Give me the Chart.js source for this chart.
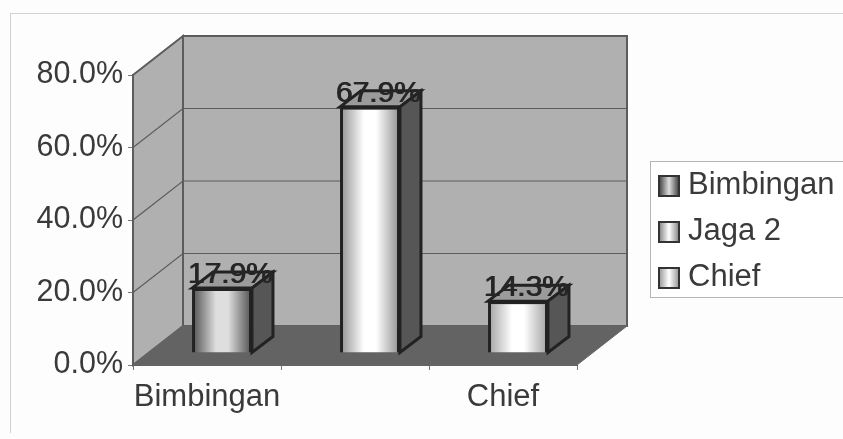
<!DOCTYPE html>
<html>
<head>
<meta charset="utf-8">
<script src="https://cdn.jsdelivr.net/npm/chart.js@4"></script>
<style>
    html, body { margin: 0; background: #fdfdfd; }
    #wrap { position: relative; width: 843px; height: 439px; overflow: hidden; filter: blur(0.6px); }
    #frame { position: absolute; left: 10px; top: 13px; width: 840px; height: 420px; border: 1px solid #d2d2d2; border-bottom: 0; box-sizing: border-box; }
    #legend { position: absolute; left: 650px; top: 161px; width: 200px; height: 137px; border: 1px solid #b5b5b5; box-sizing: border-box; background: #fff; font: 31px "Liberation Sans", Arial, sans-serif; color: #3a3a3a; }
    .legend-item { position: relative; top: -1px; height: 46px; line-height: 46px; white-space: nowrap; }
    .legend-swatch { display: inline-block; width: 22px; height: 22px; margin: 0 8px 0 7px; border: 2px solid #333; box-sizing: border-box; vertical-align: -3px; }
    canvas { position: absolute; left: 0; top: 0; }
</style>
</head>
<body>
<div id="wrap">
    <div id="frame"></div>
    <canvas id="myChart" width="843" height="439"></canvas>
    <div id="legend"></div>
</div>
<script>
var categories = ["Bimbingan", "Jaga 2", "Chief"];
var xTickLabels = ["Bimbingan", "", "Chief"];
var shareValues = [17.9, 67.9, 14.3];
var barEdgeColors = ["#4e4e4e", "#8f8f8f", "#a0a0a0"];
var barMidColors = ["#dedede", "#ffffff", "#ffffff"];

// depth of the fake 3d box, the library only knows the front plane
var wallDx = 50;
var wallDy = 39;
var barDx = 15;
var barDy = 12;
var sideDx = 21;
var sideDy = 16;

function barGradient(chart, i) {
    var cx = chart.scales.x.getPixelForValue(i);
    // first resolve happens before layout
    if (!isFinite(cx)) return barMidColors[i];
    var g = chart.ctx.createLinearGradient(cx - 30, 0, cx + 30, 0);
    g.addColorStop(0, barEdgeColors[i]);
    g.addColorStop(0.4, barMidColors[i]);
    g.addColorStop(0.6, barMidColors[i]);
    g.addColorStop(1, barEdgeColors[i]);
    return g;
}

function poly(ctx, pts, fill, stroke, width) {
    ctx.beginPath();
    ctx.moveTo(pts[0][0], pts[0][1]);
    for (var i = 1; i < pts.length; i++) {
        ctx.lineTo(pts[i][0], pts[i][1]);
    }
    ctx.closePath();
    if (fill) {
        ctx.fillStyle = fill;
        ctx.fill();
    }
    if (stroke) {
        ctx.strokeStyle = stroke;
        ctx.lineWidth = width || 1;
        ctx.stroke();
    }
}

var box3d = {
    id: "box3d",
    beforeDatasetsDraw: function (chart) {
        var ctx = chart.ctx;
        var a = chart.chartArea;
        ctx.save();
        // back wall, side wall, floor
        poly(ctx, [[a.left + wallDx, a.top - wallDy], [a.right + wallDx, a.top - wallDy], [a.right + wallDx, a.bottom - wallDy], [a.left + wallDx, a.bottom - wallDy]], "#b0b0b0", "#5c5c5c", 2);
        poly(ctx, [[a.left, a.top], [a.left + wallDx, a.top - wallDy], [a.left + wallDx, a.bottom - wallDy], [a.left, a.bottom]], "#b0b0b0", "#5c5c5c", 2);
        poly(ctx, [[a.left, a.bottom], [a.right, a.bottom], [a.right + wallDx, a.bottom - wallDy], [a.left + wallDx, a.bottom - wallDy]], "#636363", "#666", 1);
        // gridlines follow the y ticks round the two walls
        var yScale = chart.scales.y;
        ctx.strokeStyle = "#5c5c5c";
        ctx.lineWidth = 1.2;
        yScale.ticks.forEach(function (t) {
            if (t.value === 0 || t.value === 80) return;
            var y = yScale.getPixelForValue(t.value);
            ctx.beginPath();
            ctx.moveTo(a.left, y);
            ctx.lineTo(a.left + wallDx, y - wallDy);
            ctx.lineTo(a.right + wallDx, y - wallDy);
            ctx.stroke();
        });
        // bars sit part way into the floor
        ctx.translate(barDx, -barDy);
        var meta = chart.getDatasetMeta(0);
        meta.data.forEach(function (bar) {
            var l = bar.x - bar.width / 2;
            var r = bar.x + bar.width / 2;
            poly(ctx, [[l, bar.y], [l + sideDx, bar.y - sideDy], [r + sideDx, bar.y - sideDy], [r, bar.y]], "#9b9b9b", "#222", 3);
            poly(ctx, [[r, bar.y], [r + sideDx, bar.y - sideDy], [r + sideDx, bar.base - sideDy], [r, bar.base]], "#565656", "#222", 3);
        });
    },
    afterDatasetsDraw: function (chart) {
        var ctx = chart.ctx;
        ctx.restore();
        var meta = chart.getDatasetMeta(0);
        ctx.save();
        ctx.font = "30px 'Liberation Sans', Arial, sans-serif";
        ctx.fillStyle = "#262626";
        ctx.textAlign = "center";
        ctx.textBaseline = "alphabetic";
        meta.data.forEach(function (bar, i) {
            var label = shareValues[i].toFixed(1) + "%";
            var x = bar.x + barDx + 8;
            var y = bar.y - barDy - 5;
            ctx.fillText(label, x, y);
            ctx.fillText(label, x + 1, y);
        });
        ctx.restore();
    }
};

var myChart = new Chart(document.getElementById("myChart"), {
    type: "bar",
    data: {
        labels: categories,
        datasets: [
            {
                data: shareValues,
                backgroundColor: function (c) {
                    return barGradient(c.chart, c.dataIndex);
                },
                borderColor: "#222",
                borderWidth: 3,
                barPercentage: 0.405,
                categoryPercentage: 1,
            },
        ],
    },
    options: {
        responsive: false,
        animation: false,
        layout: { padding: { top: 75, right: 266, bottom: 0, left: 0 } },
        plugins: { legend: { display: false }, tooltip: { enabled: false } },
        scales: {
            x: {
                afterFit: function (scale) { scale.height = 74; },
                border: { color: "#5c5c5c" },
                grid: { drawOnChartArea: false, tickLength: 5, color: "#777" },
                ticks: {
                    autoSkip: false,
                    maxRotation: 0,
                    padding: 9,
                    color: "#3a3a3a",
                    font: { family: "'Liberation Sans', Arial, sans-serif", size: 31 },
                    callback: function (v, i) { return xTickLabels[i]; },
                },
            },
            y: {
                min: 0,
                max: 80,
                afterFit: function (scale) { scale.width = 133; },
                border: { color: "#5c5c5c", width: 2 },
                grid: { drawOnChartArea: false, tickLength: 5, color: "#777" },
                ticks: {
                    stepSize: 20,
                    padding: 5,
                    color: "#3a3a3a",
                    font: { family: "'Liberation Sans', Arial, sans-serif", size: 30.5 },
                    callback: function (v) { return v.toFixed(1) + "%"; },
                },
            },
        },
    },
    plugins: [box3d],
});

var legendEl = document.getElementById("legend");
for (var i = 0; i < categories.length; i++) {
    var rowEl = document.createElement("div");
    rowEl.classList.add("legend-item");
    var swatchEl = document.createElement("span");
    swatchEl.classList.add("legend-swatch");
    swatchEl.style.background = "linear-gradient(90deg," + barEdgeColors[i] + "," + barMidColors[i] + "," + barEdgeColors[i] + ")";
    rowEl.appendChild(swatchEl);
    rowEl.appendChild(document.createTextNode(categories[i]));
    legendEl.appendChild(rowEl);
}
</script>
</body>
</html>
